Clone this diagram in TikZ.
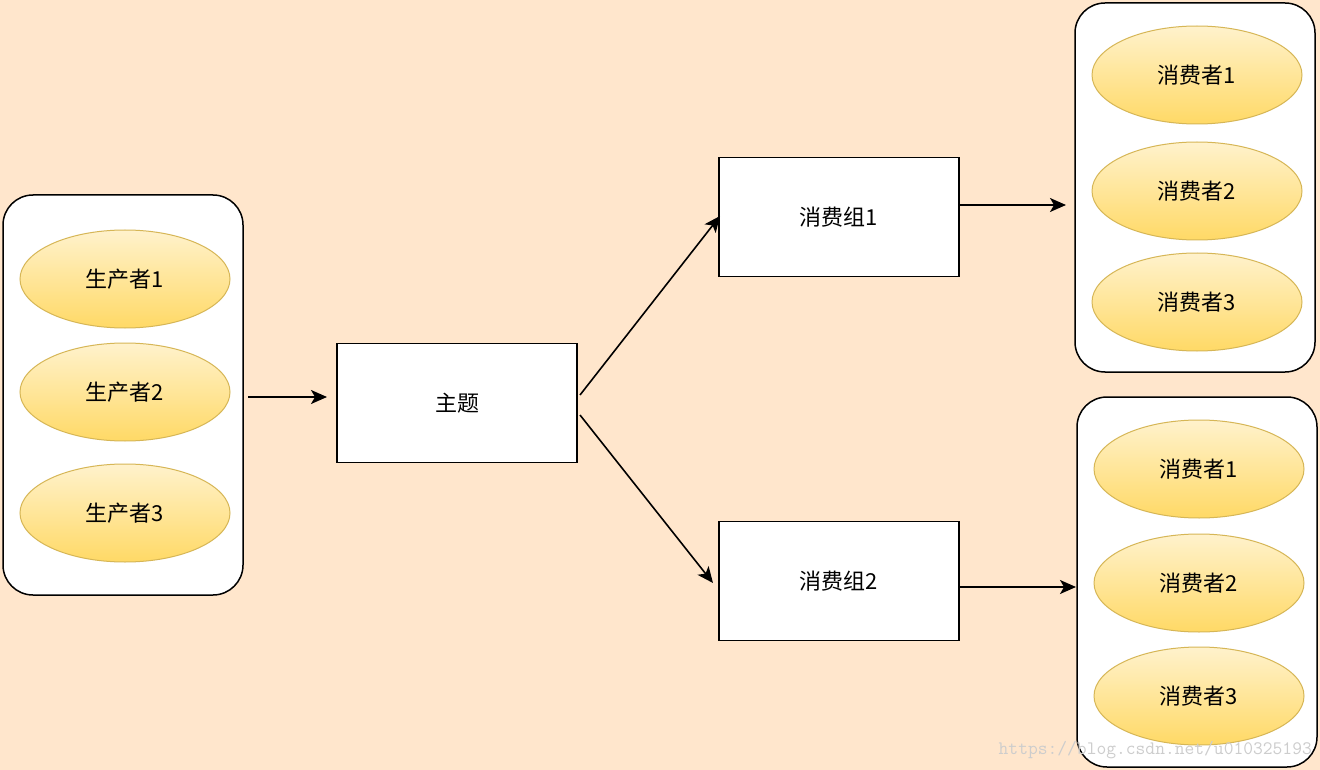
\documentclass[tikz,border=0pt]{standalone}
\usepackage{fontspec}
\setmainfont{Liberation Sans}
\newfontfamily\cjk{Noto Sans CJK SC}
\usetikzlibrary{arrows.meta,shapes.geometric}
\definecolor{bgpeach}{RGB}{255,230,204}
\definecolor{elltop}{RGB}{255,242,204}
\definecolor{ellbot}{RGB}{255,217,102}
\definecolor{ellline}{RGB}{214,182,86}
\definecolor{wmgray}{RGB}{205,205,205}
\tikzset{
  container/.style={draw=black, line width=1.5pt, fill=white, rounded corners=30pt},
  ell/.style={ellipse, draw=ellline, line width=1pt, top color=elltop, bottom color=ellbot,
              minimum width=210pt, minimum height=98pt, inner sep=0pt,
              font=\cjk\fontsize{22}{26}\selectfont},
  boxnode/.style={draw=black, line width=1.5pt, fill=white, minimum width=240pt, minimum height=119pt,
              inner sep=0pt, font=\cjk\fontsize{22}{26}\selectfont},
  arr/.style={draw=black, line width=1.6pt, -{Stealth[length=16pt,width=14pt,inset=4pt]}},
}
\begin{document}
\begin{tikzpicture}[x=1pt,y=-1pt]
\fill[bgpeach] (0,0) rectangle (1320,770);
\useasboundingbox (0,0) rectangle (1320,770);
% producer container
\draw[container] (3,195) rectangle (243,595);
\node[ell] (p1) at (125,279) {生产者1};
\node[ell] (p2) at (125,392) {生产者2};
\node[ell] (p3) at (125,513) {生产者3};
\coordinate (pc) at (248,397);
% topic
\node[boxnode] (topic) at (457,403) {主题};
\coordinate (tin) at (327,397);
% groups
\node[boxnode] (g1) at (839,217) {消费组1};
\node[boxnode] (g2) at (839,581) {消费组2};
% consumer container 1
\draw[container] (1075,3) rectangle (1315,372);
\node[ell] (c11) at (1197,75) {消费者1};
\node[ell] (c12) at (1197,191) {消费者2};
\node[ell] (c13) at (1197,302) {消费者3};
\coordinate (cc1) at (1066,205);
% consumer container 2
\draw[container] (1077,397) rectangle (1317,767);
\node[ell] (c21) at (1199,469) {消费者1};
\node[ell] (c22) at (1199,583) {消费者2};
\node[ell] (c23) at (1199,696) {消费者3};
\coordinate (cc2) at (1076,587);
% arrows
\coordinate (ts1) at (580,395);
\coordinate (ts2) at (580,415);
\coordinate (g1in) at (720,216);
\coordinate (g2in) at (713,583);
\coordinate (g1out) at (959,205);
\coordinate (g2out) at (959,587);
\draw[arr] (pc) -- (tin);
\draw[arr] (ts1) -- (g1in);
\draw[arr] (ts2) -- (g2in);
\draw[arr] (g1out) -- (cc1);
\draw[arr] (g2out) -- (cc2);
% watermark
\node[anchor=east, text=wmgray, font=\ttfamily\fontsize{19}{20}\selectfont, inner sep=0pt] (wm) at (1312,750) {https://blog.csdn.net/u010325193};
\end{tikzpicture}
\end{document}
